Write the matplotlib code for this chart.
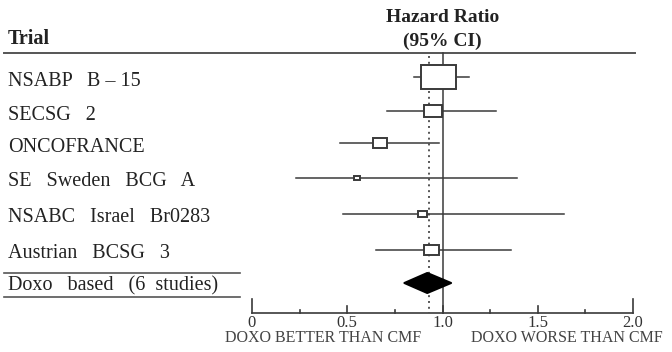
import numpy as np
import matplotlib
matplotlib.use("Agg")
import matplotlib.pyplot as plt
from matplotlib.patches import Rectangle, Polygon

plt.rcParams['font.family'] = ['Liberation Serif', 'DejaVu Serif']

# study data (hazard ratio, 95% CI, relative weight %)
trials = ["NSABP   B – 15", "SECSG   2", "ONCOFRANCE", "SE   Sweden   BCG   A",
          "NSABC   Israel   Br0283", "Austrian   BCSG   3"]
hr = [0.98, 0.95, 0.67, 0.55, 0.895, 0.94]
ci_low = [0.85, 0.71, 0.46, 0.23, 0.48, 0.65]
ci_high = [1.14, 1.28, 0.98, 1.39, 1.64, 1.36]
weights = [58.7, 15.5, 9.4, 1.7, 3.9, 10.8]

pooled_label = "Doxo   based   (6  studies)"
pooled_hr = 0.92
pooled_low = 0.80
pooled_high = 1.045

xticks = [0, 0.5, 1.0, 1.5, 2.0]
xtick_labels = ["0", "0.5", "1.0", "1.5", "2.0"]
minor_ticks = [0.25, 0.75, 1.25, 1.75]

# layout: x in hazard-ratio units, y in pixels from top
X0, SCALE = 252, 190.5
def px(p):
    return (p - X0) / SCALE

row_y = [77, 111, 143, 178, 214, 250]
pool_y = 283
axis_y = 313
top_y = 53

fig = plt.figure(figsize=(6.72, 3.52), dpi=100)
ax = fig.add_axes([0, 0, 1, 1])
ax.set_xlim(px(0), px(672))
ax.set_ylim(352, 0)
ax.axis("off")

txt = "#222222"
ln = "#3a3a3a"

# header
ax.text(px(8), 39, "Trial", fontsize=14.5, fontweight="bold", color=txt, va="center", ha="left")
ax.text(1.0, 18, "Hazard Ratio", fontsize=14, fontweight="bold", color=txt, va="center", ha="center")
ax.text(1.0, 41, "(95% CI)", fontsize=14, fontweight="bold", color=txt, va="center", ha="center")
ax.plot([px(4), px(635)], [top_y, top_y], color="#555555", lw=1.4)

# reference lines
ax.plot([1.0, 1.0], [top_y, axis_y], color=ln, lw=1.1)
ax.plot([pooled_hr + 0.01, pooled_hr + 0.01], [top_y + 3, axis_y], color="#555555", lw=1.4,
        linestyle=(0, (1, 2)))

# studies
for i, name in enumerate(trials):
    y = row_y[i]
    ax.text(px(8), y + 4, name, fontsize=14.5, color=txt, va="center", ha="left")
    ax.plot([ci_low[i], ci_high[i]], [y, y], color=ln, lw=1.1)
    w = 35 * np.sqrt(weights[i] / weights[0])
    h = w * 0.68
    ax.add_patch(Rectangle((hr[i] - w / 2 / SCALE, y - h / 2), w / SCALE, h,
                           facecolor="white", edgecolor=ln, lw=1.4, zorder=3))

# pooled row
ax.plot([px(4), px(240)], [273, 273], color="#555555", lw=1.2)
ax.plot([px(4), px(240)], [297, 297], color="#555555", lw=1.2)
ax.text(px(8), pool_y + 3, pooled_label, fontsize=14.5, color=txt, va="center", ha="left")
diamond = [(pooled_low, pool_y), (pooled_hr, pool_y - 10), (pooled_high, pool_y), (pooled_hr, pool_y + 10)]
ax.add_patch(Polygon(diamond, closed=True, facecolor="black", edgecolor="black", lw=1.5,
                     joinstyle="round", zorder=3))

# x axis
ax.plot([xticks[0], xticks[-1]], [axis_y, axis_y], color=ln, lw=1.2)
for t, lab in zip(xticks, xtick_labels):
    tl = 14 if t in (xticks[0], xticks[-1]) else 7
    ax.plot([t, t], [axis_y, axis_y - tl], color=ln, lw=1.2)
    ax.text(t, 323, lab, fontsize=12, color="#333333", ha="center", va="center")
for t in minor_ticks:
    ax.plot([t, t], [axis_y, axis_y - 3], color=ln, lw=1.2)

ax.text(px(323), 338, "DOXO BETTER THAN CMF", fontsize=11.5, color="#444444", ha="center", va="center")
ax.text(px(567), 338, "DOXO WORSE THAN CMF", fontsize=11.5, color="#444444", ha="center", va="center")

fig.savefig("out.png", dpi=100)
